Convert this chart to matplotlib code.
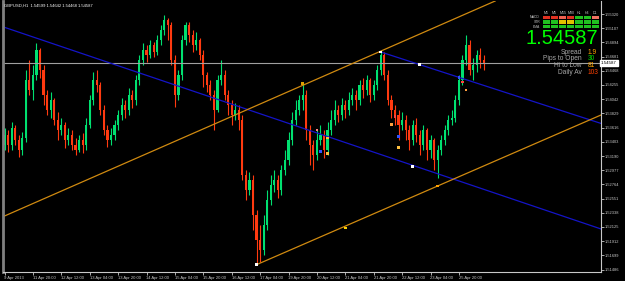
import matplotlib.pyplot as plt
from matplotlib.patches import Rectangle

# GBPUSD H1 candles (oldest first)
first_open = 1.53355
closes = [1.53505, 1.53355, 1.5361, 1.5343, 1.5328, 1.5346, 1.5433, 1.5418, 1.54405, 1.5478,
          1.5448, 1.54105, 1.5388, 1.5403, 1.5373, 1.5358, 1.53655, 1.5343, 1.53505, 1.53355,
          1.5328, 1.5343, 1.53355, 1.53655, 1.5403, 1.5433, 1.54255, 1.5388, 1.5358, 1.5343,
          1.53505, 1.53655, 1.53805, 1.53955, 1.5388, 1.54105, 1.5403, 1.5433, 1.5463, 1.5478,
          1.54705, 1.54855, 1.5475, 1.5493, 1.5508, 1.5523, 1.55155, 1.5463, 1.54105, 1.54405,
          1.5493, 1.55155, 1.55005, 1.54855, 1.5493, 1.54705, 1.54405, 1.54255, 1.54105, 1.5388,
          1.5433, 1.54405, 1.54105, 1.53955, 1.53805, 1.5388, 1.5373, 1.52905, 1.5268, 1.5283,
          1.52305, 1.5193, 1.5178, 1.52155, 1.5253, 1.52755, 1.5283, 1.5268, 1.5298, 1.5313,
          1.5343, 1.5373, 1.5388, 1.5403, 1.54105, 1.5358, 1.53355, 1.53205, 1.5343, 1.53505,
          1.5328, 1.5358, 1.5373, 1.5388, 1.53805, 1.53955, 1.5388, 1.5403, 1.54105, 1.5403,
          1.54255, 1.5418, 1.5433, 1.54105, 1.54255, 1.5448, 1.54705, 1.54405, 1.5403, 1.5388,
          1.53805, 1.53655, 1.5373, 1.5358, 1.5343, 1.53655, 1.53505, 1.53355, 1.5358, 1.5328,
          1.5343, 1.5313, 1.5328, 1.5343, 1.5358, 1.5373, 1.5376, 1.5403, 1.5433, 1.5463,
          1.54855, 1.5448, 1.54555, 1.54705, 1.5463, 1.54587]
highs = [1.5361, 1.5358, 1.5370, 1.53655, 1.53505, 1.5355, 1.5448, 1.5463, 1.54555, 1.54885,
         1.5481, 1.54555, 1.5418, 1.5415, 1.5406, 1.5385, 1.5376, 1.5370, 1.5361, 1.5358,
         1.5346, 1.53505, 1.53535, 1.5376, 1.54105, 1.5445, 1.5448, 1.5430, 1.53955, 1.53655,
         1.5361, 1.5373, 1.5388, 1.5406, 1.5403, 1.5421, 1.5418, 1.54405, 1.54705, 1.54885,
         1.54855, 1.5493, 1.5490, 1.55005, 1.55155, 1.55305, 1.5526, 1.5520, 1.54705, 1.5448,
         1.55005, 1.5520, 1.5520, 1.5508, 1.5505, 1.5496, 1.5478, 1.5445, 1.5433, 1.5418,
         1.54405, 1.5463, 1.5448, 1.5418, 1.5403, 1.53985, 1.53955, 1.53805, 1.5298, 1.5295,
         1.52905, 1.5238, 1.52155, 1.52305, 1.5268, 1.52905, 1.5298, 1.52905, 1.53055, 1.5328,
         1.5355, 1.5385, 1.5403, 1.54105, 1.5430, 1.5418, 1.53655, 1.5343, 1.5358, 1.53655,
         1.5358, 1.5370, 1.5388, 1.5403, 1.53955, 1.5406, 1.5403, 1.5415, 1.5421, 1.5418,
         1.5433, 1.5436, 1.54405, 1.5436, 1.5433, 1.54555, 1.5478, 1.5475, 1.5448, 1.54105,
         1.53955, 1.5388, 1.5385, 1.53805, 1.53655, 1.5373, 1.5376, 1.5358, 1.53655, 1.5361,
         1.53505, 1.5346, 1.53355, 1.53505, 1.53655, 1.53805, 1.5388, 1.54105, 1.54405, 1.54705,
         1.55005, 1.5493, 1.5466, 1.5478, 1.5481, 1.54705]
lows = [1.5328, 1.5325, 1.5328, 1.53355, 1.53175, 1.53205, 1.5340, 1.54105, 1.5403, 1.5433,
        1.5436, 1.53955, 1.53805, 1.5376, 1.53655, 1.5343, 1.53505, 1.5331, 1.53355, 1.5328,
        1.53205, 1.5325, 1.53235, 1.5328, 1.5361, 1.53955, 1.5415, 1.53805, 1.53505, 1.53325,
        1.53355, 1.5343, 1.5358, 1.5373, 1.5376, 1.53805, 1.5391, 1.53955, 1.54255, 1.54555,
        1.5460, 1.5466, 1.54675, 1.54705, 1.54855, 1.55005, 1.5493, 1.54555, 1.53925, 1.5403,
        1.5433, 1.54855, 1.5490, 1.5475, 1.5478, 1.5463, 1.54225, 1.5415, 1.5403, 1.5358,
        1.5385, 1.54255, 1.5403, 1.53805, 1.53655, 1.5373, 1.5358, 1.5283, 1.5253, 1.52605,
        1.5208, 1.51555, 1.5160, 1.51705, 1.5208, 1.52455, 1.5265, 1.5256, 1.52605, 1.52905,
        1.53055, 1.53355, 1.53655, 1.53805, 1.5388, 1.5343, 1.53055, 1.5298, 1.5313, 1.53355,
        1.5316, 1.53205, 1.53505, 1.53655, 1.5370, 1.5373, 1.5376, 1.53805, 1.53955, 1.5388,
        1.53955, 1.5406, 1.54105, 1.5400, 1.5403, 1.5418, 1.54405, 1.5433, 1.53955, 1.5376,
        1.53655, 1.5343, 1.5358, 1.5343, 1.5328, 1.53355, 1.5340, 1.53205, 1.5328, 1.5313,
        1.5316, 1.5298, 1.5286, 1.53205, 1.53355, 1.53505, 1.53655, 1.5370, 1.53955, 1.54255,
        1.54555, 1.54405, 1.5433, 1.5445, 1.5451, 1.5448]
opens = [first_open] + closes[:-1]

bid = 1.54587
symbol_title = "GBPUSD,H1  1.54599 1.54642 1.54468 1.54587"

price_ticks = [1.55320, 1.55107, 1.54894, 1.54681, 1.54468, 1.54255, 1.54042, 1.53829,
               1.53616, 1.53403, 1.53190, 1.52977, 1.52764, 1.52551, 1.52338, 1.52125,
               1.51912, 1.51699, 1.51486]
time_ticks = [0, 8, 16, 24, 32, 40, 48, 56, 64, 72, 80, 88, 96, 104, 112, 120, 128]
time_labels = ["9 Apr 2013", "11 Apr 20:00", "12 Apr 12:00", "13 Apr 04:00", "13 Apr 20:00",
               "14 Apr 12:00", "15 Apr 04:00", "15 Apr 20:00", "16 Apr 12:00", "17 Apr 04:00",
               "19 Apr 20:00", "20 Apr 12:00", "21 Apr 04:00", "21 Apr 20:00", "22 Apr 12:00",
               "23 Apr 04:00", "25 Apr 20:00"]

# trend lines: (bar, price) anchor pairs
blue_full = [(0, 1.5512), (115, 1.5305)]
blue_ray = [(106, 1.5475), (117, 1.5456)]
orange_full = [(0, 1.5229), (84, 1.5425)]
orange_ray = [(71, 1.5156), (122, 1.5274)]

# small objects dropped on the chart
obj_bars = [84, 96, 106, 117, 115, 122, 71, 88, 89, 91, 91, 110, 109, 111, 111, 128, 129, 130]
obj_prices = [1.5428, 1.5211, 1.5475, 1.5456, 1.5303, 1.5274, 1.5156,
              1.5358, 1.5326, 1.5346, 1.5323, 1.5378, 1.5366, 1.5348, 1.5332, 1.5437, 1.5430, 1.5418]
obj_colors = ['#e0a000', '#ffd000', '#ffffff', '#ffffff', '#ffffff', '#ffa000', '#ffffff',
              '#ff8080', '#3050ff', '#ffc040', '#ffc040', '#ff4040', '#ffa040', '#3050ff', '#ffc040',
              '#3050ff', '#ff4040', '#ffa040']

# info panel
tf_names = ['M1', 'M5', 'M15', 'M30', 'H1', 'H4', 'D1']
row_names = ['MACD', 'STR', 'EMA']
signal_rows = [['#e03020', '#e03020', '#f06050', '#e03020', '#20c020', '#20c020', '#f07060'],
               ['#20c020', '#20c020', '#e0c000', '#e0c000', '#20c020', '#20c020', '#20c020'],
               ['#20c020', '#20c020', '#20c020', '#20c020', '#20c020', '#20c020', '#20c020']]
info_names = ['Spread', 'Pips to Open', 'Hi to Low', 'Daily Av']
info_values = ['1.9', '30', '81', '103']
info_colors = ['#ffa500', '#00e000', '#ffa500', '#ff4000']

W, H = 625, 281
fig = plt.figure(figsize=(W / 100, H / 100), dpi=100, facecolor='black')
ax = fig.add_axes([3 / W, 9 / H, 598 / W, 271 / H], facecolor='black')
small = 'Liberation Sans'

step = 3.55
x0 = 4.5
ax.set_xlim((3 - x0) / step, (601 - x0) / step)
ax.set_ylim(1.5145, 1.55515)

bull, bear = '#00e070', '#ff3a10'
for i in range(len(closes)):
    c = bull if closes[i] >= opens[i] else bear
    ax.vlines(i, lows[i], highs[i], color=c, lw=0.8)
    lo = min(opens[i], closes[i])
    hi = max(opens[i], closes[i])
    ax.bar(i, max(hi - lo, 0.00003), bottom=lo, width=0.6, color=c, lw=0)

ax.axhline(bid, color='#a0a0a0', lw=0.8)

ax.axline(blue_full[0], blue_full[1], color='#1414c8', lw=0.9)
ax.axline(orange_full[0], orange_full[1], color='#d08a10', lw=0.9)
xr = ax.get_xlim()[1]
for pts, col in [(blue_ray, '#1414c8'), (orange_ray, '#d08a10')]:
    (a, pa), (b, pb) = pts
    slope = (pb - pa) / (b - a)
    ax.plot([a, xr], [pa, pa + slope * (xr - a)], color=col, lw=0.9)

ax.scatter(obj_bars, obj_prices, s=4, c=obj_colors, marker='s', lw=0, zorder=5)

# axes styling
ax.spines['top'].set_visible(False)
ax.spines['left'].set_color('#808080')
ax.spines['left'].set_linewidth(2)
ax.spines['right'].set_color('#c8c8c8')
ax.spines['bottom'].set_color('#c8c8c8')
ax.spines['right'].set_linewidth(0.8)
ax.spines['bottom'].set_linewidth(0.8)
ax.yaxis.tick_right()
ax.set_yticks(price_ticks)
ax.set_yticklabels([f"{p:.5f}" for p in price_ticks], family=small, fontsize=2.9)
ax.set_xticks(time_ticks)
ax.set_xticklabels(time_labels, ha='left', family=small, fontsize=3.0)
ax.tick_params(axis='both', colors='#c8c8c8', length=2, width=0.6, pad=1)
ax.tick_params(axis='y', left=False)

# bid price box on the scale
ax.text(1.0, bid, "1.54587", transform=ax.get_yaxis_transform(), fontsize=3.2,
        family=small, color='black', va='center', ha='left',
        bbox=dict(boxstyle='square,pad=0.2', fc='white', ec='white'))

fig.text(4 / W, 1 - 6 / H, symbol_title, color='white', fontsize=3.0, family=small,
         va='center')

# multi timeframe table
cell_w, cell_h = 7.2, 3.2
for j, name in enumerate(tf_names):
    fig.text((543 + j * 8.1 + cell_w / 2) / W, 1 - 13.5 / H, name, color='#c0c0c0',
             fontsize=2.6, family=small, ha='center', va='center')
for r, row in enumerate(signal_rows):
    fig.text(540 / W, 1 - (17.5 + r * 4.5) / H, row_names[r], color='#c0c0c0',
             fontsize=2.4, family=small, ha='right', va='center')
    for j, col in enumerate(row):
        fig.patches.append(Rectangle(((543 + j * 8.1) / W, 1 - (19 + r * 4.5) / H),
                                     cell_w / W, cell_h / H, transform=fig.transFigure,
                                     fc=col, ec='none'))

fig.text(598 / W, 1 - 39 / H, "1.54587", color='#00ff00', fontsize=14.5,
         family='Liberation Sans', ha='right', va='center')
for k in range(len(info_names)):
    y = 1 - (52 + k * 6.7) / H
    fig.text(582 / W, y, info_names[k], color='#a8a8a8', fontsize=4.8,
             family='Liberation Sans', ha='right', va='center')
    fig.text(588 / W, y, info_values[k], color=info_colors[k], fontsize=4.8,
             family='Liberation Sans', ha='left', va='center')

fig.savefig('out.png', dpi=100, facecolor='black')
